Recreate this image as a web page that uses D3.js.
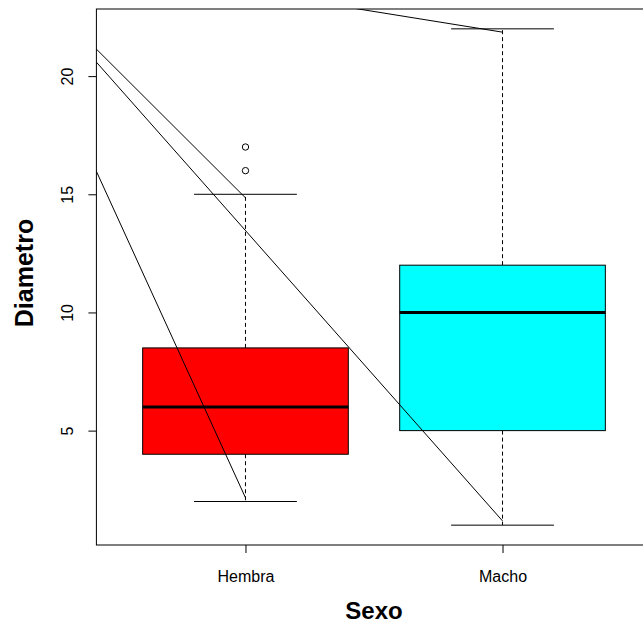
<!DOCTYPE html>
<html>
<head>
<meta charset="utf-8">
<script src="https://cdn.jsdelivr.net/npm/d3@7"></script>
<style>
  body { margin: 0; background: #fff; }
  svg text { font-family: "Liberation Sans", Arial, Helvetica, sans-serif; }
</style>
</head>
<body>
<svg id="chart" width="643" height="625"></svg>
<script>
// Groups and five-number summaries for each box
const categories = ["Hembra", "Macho"];
const lowerWhisker = [2, 1];
const q1 = [4, 5];
const medians = [6, 10];
const q3 = [8.5, 12];
const upperWhisker = [15, 22];
const fills = ["#ff0000", "#00ffff"];
// Outlying points per group (group index, value)
const outliers = [[0, 16], [0, 17]];
// Overlaid straight segments: start (x0, y0) and end (x1, y1) in data units
const segX0 = [0, 0, 0, 0];
const segY0 = [25.7, 25.75, 25.97, 25.36];
const segX1 = [1, 2, 1, 2];
const segY1 = [14.85, 1.18, 2.16, 21.86];
const yTicks = [5, 10, 15, 20];

const svg = d3.select("#chart");
const plotL = 96.4, plotR = 651.6, plotT = 9, plotB = 545;

// R-style ranges: x = 0.5..2.5 and y = 1..22, each widened by 4%
const x = d3.scaleLinear().domain([0.42, 2.58]).range([plotL, plotR]);
const y = d3.scaleLinear().domain([0.16, 22.84]).range([plotB, plotT]);
const pos = i => x(i + 1);
const halfW = x(1.4) - x(1);
const capW = x(1.2) - x(1);

svg.append("defs").append("clipPath").attr("id", "plotclip")
  .append("rect").attr("x", plotL).attr("y", plotT)
  .attr("width", plotR - plotL).attr("height", plotB - plotT);

const g = svg.append("g");

categories.forEach((c, i) => {
  const cx = pos(i);
  // dashed whiskers
  g.append("line").attr("x1", cx).attr("x2", cx)
    .attr("y1", y(q3[i])).attr("y2", y(upperWhisker[i]))
    .attr("stroke", "#000").attr("stroke-dasharray", "4,3");
  g.append("line").attr("x1", cx).attr("x2", cx)
    .attr("y1", y(q1[i])).attr("y2", y(lowerWhisker[i]))
    .attr("stroke", "#000").attr("stroke-dasharray", "4,3");
  // staples
  [upperWhisker[i], lowerWhisker[i]].forEach(v => {
    g.append("line").attr("x1", cx - capW).attr("x2", cx + capW)
      .attr("y1", y(v)).attr("y2", y(v)).attr("stroke", "#000");
  });
  // box
  g.append("rect").attr("x", cx - halfW).attr("width", 2 * halfW)
    .attr("y", y(q3[i])).attr("height", y(q1[i]) - y(q3[i]))
    .attr("fill", fills[i]).attr("stroke", "#000").attr("stroke-width", 1);
  // median
  g.append("line").attr("x1", cx - halfW).attr("x2", cx + halfW)
    .attr("y1", y(medians[i])).attr("y2", y(medians[i]))
    .attr("stroke", "#000").attr("stroke-width", 3);
});

g.selectAll("circle.out").data(outliers).join("circle")
  .attr("class", "out")
  .attr("cx", d => pos(d[0])).attr("cy", d => y(d[1])).attr("r", 3.2)
  .attr("fill", "none").attr("stroke", "#000");

// overlaid segments, clipped to the plotting region
svg.append("g").attr("clip-path", "url(#plotclip)")
  .selectAll("line").data(segX0.map((d, i) => i)).join("line")
  .attr("x1", i => x(segX0[i])).attr("y1", i => y(segY0[i]))
  .attr("x2", i => x(segX1[i])).attr("y2", i => y(segY1[i]))
  .attr("stroke", "#000").attr("stroke-width", 1);

// plot frame
svg.append("rect").attr("x", plotL).attr("y", plotT)
  .attr("width", plotR - plotL).attr("height", plotB - plotT)
  .attr("fill", "none").attr("stroke", "#000");

// x axis
const xAxis = d3.axisBottom(x).tickValues([1, 2])
  .tickFormat((d, i) => categories[i]).tickSize(8).tickPadding(18);
svg.append("g").attr("transform", `translate(0,${plotB})`).call(xAxis)
  .call(a => a.select(".domain").remove())
  .call(a => a.selectAll("text").attr("font-size", 16).attr("fill", "#000")
    .attr("font-family", "Liberation Sans, Arial, sans-serif"));

// y axis with rotated labels
const yAxis = d3.axisLeft(y).tickValues(yTicks).tickSize(8).tickPadding(0);
const ya = svg.append("g").attr("transform", `translate(${plotL},0)`).call(yAxis);
ya.select(".domain").remove();
ya.selectAll(".tick text")
  .attr("x", null).attr("dy", null).attr("text-anchor", "middle")
  .attr("transform", "translate(-29,0) rotate(-90)")
  .attr("dy", "0.35em")
  .attr("font-size", 16).attr("fill", "#000")
  .attr("font-family", "Liberation Sans, Arial, sans-serif");

// axis titles
svg.append("text").attr("x", (plotL + plotR) / 2).attr("y", 619)
  .attr("text-anchor", "middle").attr("font-size", 24).attr("font-weight", "bold")
  .text("Sexo");
svg.append("text").attr("transform", `translate(33,${(plotT + plotB) / 2 - 4}) rotate(-90)`)
  .attr("text-anchor", "middle").attr("font-size", 25).attr("font-weight", "bold")
  .text("Diametro");
</script>
</body>
</html>
